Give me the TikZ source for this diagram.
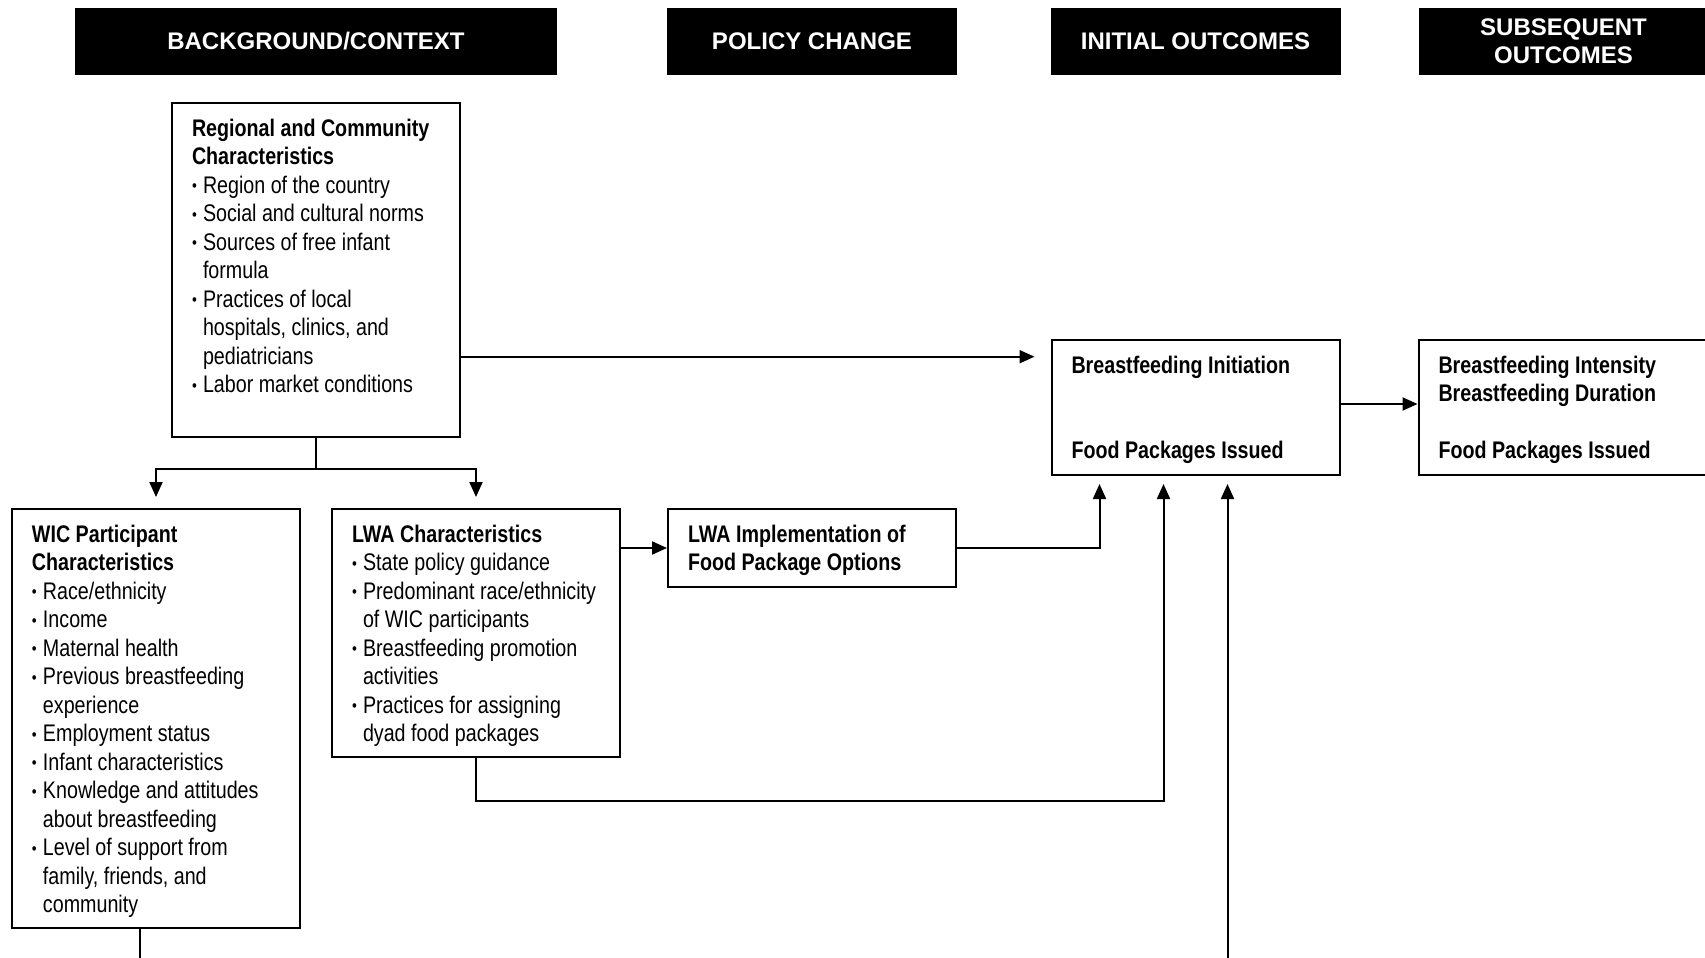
\documentclass[tikz,border=0pt]{standalone}
\usepackage{fontspec}
\setmainfont{Liberation Sans}[FakeStretch=0.82]
\newfontfamily\hdfont{Liberation Sans}
\usepackage{graphicx}
\usetikzlibrary{arrows.meta,positioning,calc}

\newcommand{\bul}{\raisebox{0.9pt}{\scalebox{0.7}{\textbullet}}}
\newcommand{\hd}[1]{\noindent\mbox{\bfseries #1}\par}
\newcommand{\itm}[1]{\noindent\makebox[5.5pt][l]{\bul}\mbox{#1}\par}
\newcommand{\cnt}[1]{\noindent\hspace*{5.5pt}\mbox{#1}\par}
\newcommand{\inbox}[2]{\parbox[c][#1][t]{124pt}{#2}}

\begin{document}
\begin{tikzpicture}[x=0.5pt,y=-0.5pt,>={Triangle[length=7.5pt,width=6.5pt]},line width=1pt,
      head/.style={fill=black,text=white,font=\hdfont\bfseries\fontsize{12}{14}\selectfont,
        align=center,minimum height=33.7pt,inner sep=0pt},
      info box/.style={draw,inner xsep=10pt,inner ysep=8pt,font=\fontsize{12}{14.25}\selectfont}]
      \useasboundingbox (0,0) rectangle (1705,958);
      \clip (0,0) rectangle (1705,958);

      % column heads
      \node[head,minimum width=241pt] (hbg) at (316,41.3) {BACKGROUND/CONTEXT};
      \node[head,minimum width=145pt] (hpol) at (812,41.3) {POLICY CHANGE};
      \node[head,minimum width=145pt] (hini) at (1195.5,41.3) {INITIAL OUTCOMES};
      \node[head,minimum width=145pt] (hsub) at (1563.5,41.3) {SUBSEQUENT\\OUTCOMES};

      % boxes
      \node[info box] (reg) at (316,270) {\inbox{151pt}{%
        \hd{Regional and Community}
        \hd{Characteristics}
        \itm{Region of the country}
        \itm{Social and cultural norms}
        \itm{Sources of free infant}
        \cnt{formula}
        \itm{Practices of local}
        \cnt{hospitals, clinics, and}
        \cnt{pediatricians}
        \itm{Labor market conditions}}};
      \node[info box] (wic) at (156,718.5) {\inbox{193.5pt}{%
        \hd{WIC Participant}
        \hd{Characteristics}
        \itm{Race/ethnicity}
        \itm{Income}
        \itm{Maternal health}
        \itm{Previous breastfeeding}
        \cnt{experience}
        \itm{Employment status}
        \itm{Infant characteristics}
        \itm{Knowledge and attitudes}
        \cnt{about breastfeeding}
        \itm{Level of support from}
        \cnt{family, friends, and}
        \cnt{community}}};
      \node[info box,right=15pt of wic.north east,anchor=north west] (lwa) {\inbox{108pt}{%
        \hd{LWA Characteristics}
        \itm{State policy guidance}
        \itm{Predominant race/ethnicity}
        \cnt{of WIC participants}
        \itm{Breastfeeding promotion}
        \cnt{activities}
        \itm{Practices for assigning}
        \cnt{dyad food packages}}};
      \node[info box,right=23pt of lwa.north east,anchor=north west] (impl) {\inbox{23pt}{%
        \hd{LWA Implementation of}
        \hd{Food Package Options}}};
      \node[info box] (init) at (1195.5,407.5) {\inbox{51.5pt}{%
        \hd{Breastfeeding Initiation}
        \hd{}
        \hd{}
        \hd{Food Packages Issued}}};
      \node[info box,right=38.5pt of init] (subseq) {\inbox{51.5pt}{%
        \hd{Breastfeeding Intensity}
        \hd{Breastfeeding Duration}
        \hd{}
        \hd{Food Packages Issued}}};

      % connectors
      \path (reg.south) ++(0,31) coordinate (fork);
      \draw[->,shorten >=5.5pt] (reg.south) -- (fork) -| (wic.north);
      \draw[->,shorten >=5.5pt] (fork) -| (lwa.north);

      \coordinate (r1) at ([yshift=-43.35pt]reg.east);
      \draw[->,shorten >=8pt] (r1) -- (r1 -| init.west);

      \draw[->] (lwa.east |- impl.west) -- (impl.west);

      \coordinate (inA) at ($(init.south west)+(49,0)$);
      \coordinate (inB) at ($(init.south west)+(113,0)$);
      \coordinate (inC) at ($(init.south west)+(177,0)$);
      \draw[->,shorten >=4pt] (impl.east) -| (inA);
      \draw[->,shorten >=4pt] (lwa.south) -- ++(0,43) -| (inB);
      \coordinate (feedin) at ($(inC)+(0,520)$);
      \draw[->,shorten >=4pt] (feedin) -- (inC);

      \coordinate (wicout) at ($(wic.south)+(-16,60)$);
      \draw (wic.south -| wicout) -- (wicout);

      \draw[->] ([yshift=1.75pt]init.east) -- ([yshift=1.75pt]subseq.west);
\end{tikzpicture}
\end{document}
